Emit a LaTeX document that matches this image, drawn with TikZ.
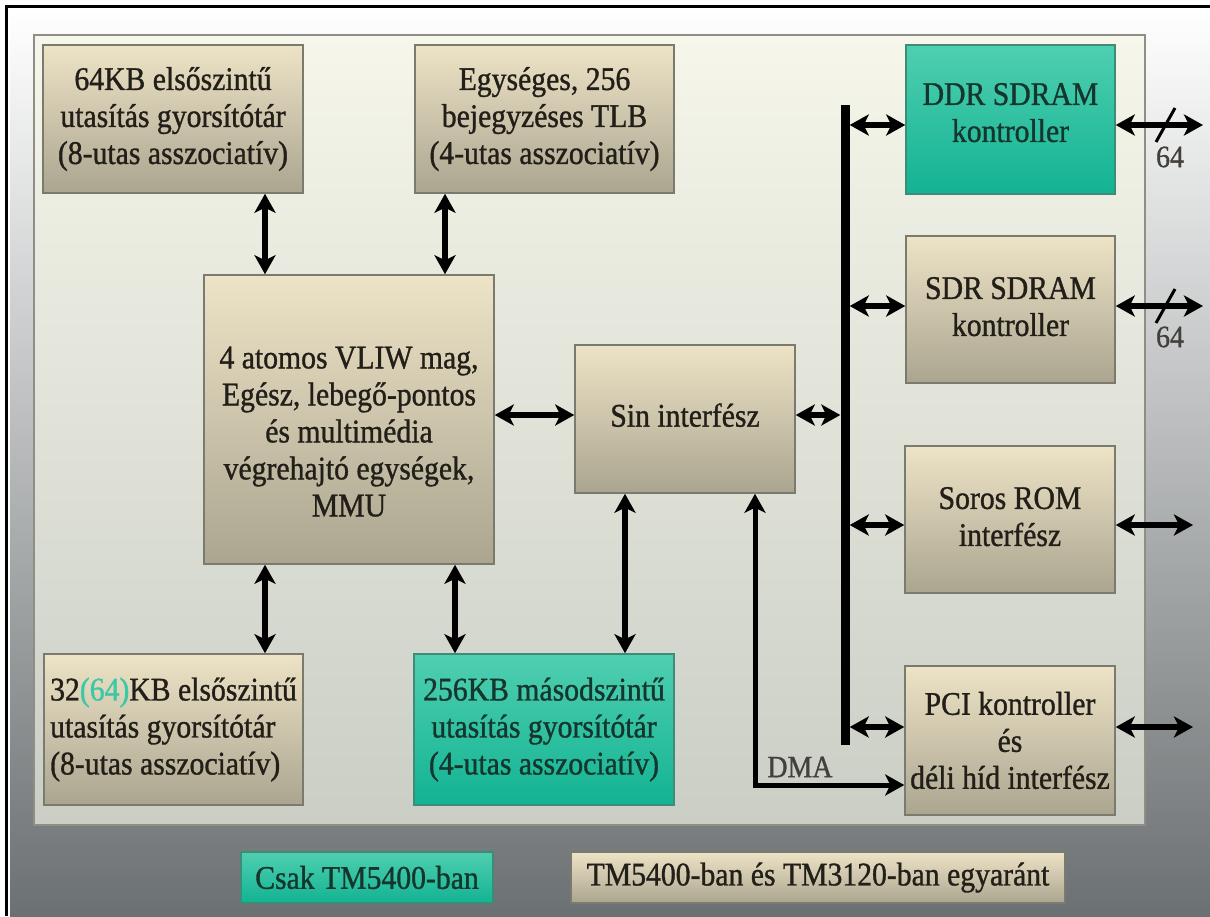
\documentclass[tikz,border=0pt]{standalone}
\usepackage{fontspec}
\setmainfont{Liberation Serif}[FakeStretch=0.9, FakeBold=1]
\usetikzlibrary{arrows.meta,calc}
\definecolor{beigeT}{HTML}{EDE3C6}
\definecolor{beigeB}{HTML}{ABA590}
\definecolor{textc}{HTML}{221F19}
\definecolor{tealT}{HTML}{4FCFB0}
\definecolor{tealB}{HTML}{12B393}
\definecolor{tealtext}{HTML}{15362D}
\definecolor{tealline}{HTML}{3E8C78}
\definecolor{tealhl}{HTML}{3CC8A6}
\definecolor{boxline}{HTML}{7A7A6E}
\definecolor{panelT}{HTML}{F6F6EA}
\definecolor{panelM}{HTML}{ECEDE2}
\definecolor{panelB}{HTML}{CACEC5}
\definecolor{panelline}{HTML}{8E8E86}
\definecolor{bgM}{HTML}{C4C8CB}
\definecolor{bgB}{HTML}{6B7072}
\tikzset{
  boxbase/.style={rectangle, draw=boxline, line width=1.5pt, inner sep=0pt, align=center,
    font=\fontsize{33}{37}\selectfont},
  beigebox/.style={boxbase, top color=beigeT, bottom color=beigeB, text=textc},
  tealbox/.style={boxbase, draw=tealline, top color=tealT, bottom color=tealB, text=tealtext},
  tipA/.tip={Stealth[length=19pt,width=21pt,inset=5pt]},
  dbl/.style={line width=5.5pt, tipA-tipA},
  dblthin/.style={line width=5pt, tipA-tipA},
  lbl/.style={inner sep=0pt, font=\fontsize{31}{34}\selectfont, text=textc!85!white},
  slashmark/.style={line width=3pt}
}
\begin{document}
\begin{tikzpicture}[x=1pt,y=-1pt]
\useasboundingbox (0,0) rectangle (1210,916);
% background
\fill[white] (0,0) rectangle (1210,916);
\shade[top color=white, middle color=bgM, bottom color=bgB] (10,9) rectangle (1210,916);
\draw[line width=3pt] (5,6.5) -- (1210,6.5);
\draw[line width=3pt] (6.5,5) -- (6.5,916);
% panel
\path[draw=panelline, line width=2pt, top color=panelT, middle color=panelM, bottom color=panelB] (34,35) rectangle (1145,825);

% boxes
\node[beigebox, minimum width=260pt, minimum height=148pt] (l1i) at (173,119)
  {64KB elsőszintű\\utasítás gyorsítótár\\(8-utas asszociatív)};
\node[beigebox, minimum width=259pt, minimum height=148pt] (tlb) at (544.5,119)
  {Egységes, 256\\bejegyzéses TLB\\(4-utas asszociatív)};
\node[tealbox, minimum width=209pt, minimum height=149pt] (ddr) at (1010.5,119.5)
  {DDR SDRAM\\kontroller\rule[-14pt]{0pt}{14pt}};
\node[beigebox, minimum width=209pt, minimum height=147pt] (sdr) at (1010.5,309.5)
  {SDR SDRAM\\kontroller\rule[-6pt]{0pt}{6pt}};
\node[beigebox, minimum width=210pt, minimum height=147pt] (rom) at (1010,519.5)
  {Soros ROM\\interfész\rule[-6pt]{0pt}{6pt}};
\node[beigebox, minimum width=210pt, minimum height=149pt] (pci) at (1010,740.5)
  {PCI kontroller\\és\\déli híd interfész};
\node[beigebox, minimum width=290pt, minimum height=289pt] (core) at (349,419.5)
  {\rule{0pt}{46pt}4 atomos VLIW mag,\\Egész, lebegő-pontos\\és multimédia\\végrehajtó egységek,\\MMU};
\node[beigebox, minimum width=220pt, minimum height=148pt] (sin) at (685,419)
  {Sin interfész\rule[-8pt]{0pt}{8pt}};
\node[beigebox, minimum width=259pt, minimum height=151pt, align=left] (l1d) at (173.5,729.5)
  {32\textcolor{tealhl}{(64)}KB elsőszintű\\utasítás gyorsítótár\\(8-utas asszociatív)};
\node[tealbox, minimum width=260pt, minimum height=151pt] (l2) at (544,729.5)
  {256KB másodszintű\\utasítás gyorsítótár\\(4-utas asszociatív)};
\node[tealbox, minimum width=252pt, minimum height=51pt] (leg1) at (367,877.5)
  {Csak TM5400-ban};
\node[beigebox, minimum width=494pt, minimum height=51pt] (leg2) at (818,877.5)
  {TM5400-ban és TM3120-ban egyaránt};
% bus
\node[fill=black, inner sep=0pt, minimum width=9pt, minimum height=640pt] (bus) at (845,425) {};

% helper coordinates
\coordinate (c265) at (265,0);
\coordinate (c445) at (445,0);
\coordinate (c455) at (455,0);
\coordinate (c625) at (625,0);
\coordinate (c755) at (755,0);
\coordinate (r415) at (0,415);
\coordinate (r125) at (0,125);
\coordinate (r306) at (0,306);
\coordinate (r525) at (0,525);
\coordinate (r727) at (0,727);
\coordinate (r785) at (0,785);
\coordinate (e1) at (1203,125);
\coordinate (e2) at (1203,306);
\coordinate (e3) at (1193,525);
\coordinate (e4) at (1193,727);

% connectors
\draw[dbl] (l1i.south -| c265) -- (core.north -| c265);
\draw[dbl] (tlb.south -| c445) -- (core.north -| c445);
\draw[dbl] (core.south -| c265) -- (l1d.north -| c265);
\draw[dbl] (core.south -| c455) -- (l2.north -| c455);
\draw[dbl] (sin.south -| c625) -- (l2.north -| c625);
\draw[dbl] (core.east |- r415) -- (sin.west |- r415);
\draw[dbl] (sin.east |- r415) -- (bus.west |- r415);
\draw[dbl] (bus.east |- r125) -- (ddr.west |- r125);
\draw[dbl] (bus.east |- r306) -- (sdr.west |- r306);
\draw[dbl] (bus.east |- r525) -- (rom.west |- r525);
\draw[dbl] (bus.east |- r727) -- (pci.west |- r727);
\draw[dbl] (ddr.east |- r125) -- (e1);
\draw[dbl] (sdr.east |- r306) -- (e2);
\draw[dbl] (rom.east |- r525) -- (e3);
\draw[dbl] (pci.east |- r727) -- (e4);
\draw[dblthin] (sin.south -| c755) |- (pci.west |- r785);
\node[lbl] (dma) at (800,767) {DMA};

% width marks
\draw[slashmark] (1156,142) -- (1175,108);
\draw[slashmark] (1156,323) -- (1175,289);
\node[lbl] (w1) at (1170,157) {64};
\node[lbl] (w2) at (1170,337) {64};
\end{tikzpicture}
\end{document}
